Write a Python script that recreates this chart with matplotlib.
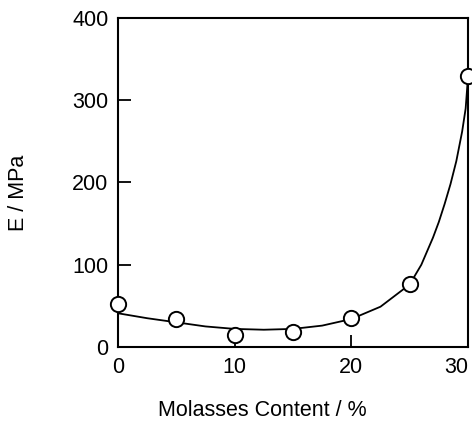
import matplotlib
matplotlib.use("Agg")
import matplotlib.pyplot as plt

plt.rcParams['font.family'] = ['Liberation Sans', 'DejaVu Sans']

# measured points
molasses = [0, 5, 10, 15, 20, 25, 30]
modulus = [52, 34, 15, 18, 35, 77, 330]

# fitted curve
curve_x = [0, 2.5, 5, 7.5, 10, 12.5, 15, 17.5, 20, 22.5, 25, 26, 27, 27.5, 28, 28.5, 29, 29.5, 29.8, 30]
curve_y = [41, 35, 30, 25, 22, 21, 22, 26, 34, 49, 76, 100, 133, 152, 174, 198, 226, 262, 290, 328]

xticks = [0, 10, 20, 30]
yticks = [0, 100, 200, 300, 400]

fig = plt.figure(figsize=(4.72, 4.24), dpi=100)
ax = fig.add_axes([0.25, 0.1816, 0.7415, 0.776])

ax.plot(curve_x, curve_y, color='black', lw=1.3, zorder=2)
ax.plot(molasses, modulus, 'o', ms=11, mfc='white', mec='black', mew=1.4,
        clip_on=False, zorder=3)

ax.set_xlim(0, 30)
ax.set_ylim(0, 400)
ax.set_xticks(xticks)
ax.set_yticks(yticks)
ax.tick_params(direction='in', length=9, width=1.3, labelsize=15.5, pad=7)
for s in ax.spines.values():
    s.set_linewidth(1.5)
# last x label sits inside the right edge, as in the original
ax.get_xticklabels()[-1].set_ha('right')

fig.text(262 / 472, 1 - 411 / 424, 'Molasses Content / %', ha='center', va='center', fontsize=15.5)
fig.text(19 / 472, 1 - 193 / 424, 'E / MPa', ha='center', va='center', rotation=90, fontsize=15.5)

fig.savefig('out.png', dpi=100)
